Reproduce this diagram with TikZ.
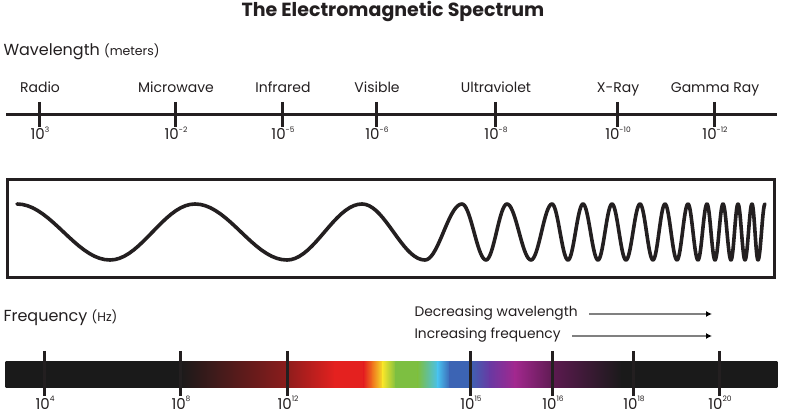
\documentclass[tikz,border=0pt]{standalone}
\usepackage{fontspec}
\setmainfont{Poppins}
\usetikzlibrary{arrows.meta}

\definecolor{ink}{HTML}{231F20}
\definecolor{barblack}{HTML}{1A1A1A}
\definecolor{darkred}{HTML}{8A1C1C}
\definecolor{specred}{HTML}{E4211F}
\definecolor{specorange}{HTML}{F07A1E}
\definecolor{specyellow}{HTML}{F5E52A}
\definecolor{specgreen}{HTML}{7DBF41}
\definecolor{speccyan}{HTML}{48C0EE}
\definecolor{specblue}{HTML}{3C64B4}
\definecolor{specviolet}{HTML}{6A38A2}
\definecolor{specmagenta}{HTML}{A2288E}
\definecolor{darkpurple}{HTML}{5A1A4E}

\newcommand{\tenpow}[1]{10\raisebox{0.5em}{\fontsize{7.5}{7.5}\selectfont#1}}

\begin{document}
\begin{tikzpicture}[x=1pt,y=-1pt,
  axisline/.style={ink,line width=3pt},
  tickmark/.style={ink,line width=3pt},
  wave/.style={ink,line width=3.6pt,line cap=round,line join=round},
  bandlabel/.style={text=ink,anchor=base,font=\fontsize{14}{14}\selectfont},
  powlabel/.style={text=ink,anchor=base,font=\fontsize{15}{15}\selectfont},
  hintlabel/.style={text=ink,anchor=west,font=\fontsize{13.8}{13.8}\selectfont},
  hint/.style={gray,line width=1.2pt,-{Latex[length=6pt,width=6pt,black]}}]
\useasboundingbox (0,0) rectangle (788,414);

% title
\node[text=ink,font=\bfseries\fontsize{19}{19}\selectfont] (title) at (393,12) {The Electromagnetic Spectrum};

% wavelength scale
\node[text=ink,anchor=base west,font=\fontsize{16}{16}\selectfont] (wavelength) at (0,56)
  {Wavelength {\fontsize{12.5}{12.5}\selectfont(meters)}};
\coordinate (wlstart) at (6,115);
\coordinate (wlend) at (777,115);
\draw[axisline] (wlstart) -- (wlend);
\foreach \x/\name/\band/\pow in {39/radio/Radio/3, 175/micro/Microwave/-2,
    282/infra/Infrared/-5, 376/visible/Visible/-6, 495/ultra/Ultraviolet/-8,
    617/xray/X-Ray/-10, 714/gamma/Gamma Ray/-12}{
  \draw[tickmark] (\x,102) -- (\x,127);
  \node[bandlabel] (\name) at (\x+1,93) {\band};
  \node[powlabel] (\name-pow) at (\x+1,140) {\tenpow{\pow}};
}

% wave box
\draw[ink,line width=3pt] (7,180) rectangle (774,278);
\foreach \a/\b/\s in {17/110/1, 110/195/-1, 195/287/1, 287/362/-1, 362/425/1,
    425/462/-1, 462/486/1, 486/507/-1, 507/531/1, 531/552/-1, 552/568/1,
    568/583/-1, 583/598/1, 598/612/-1, 612/626/1, 626/640/-1, 640/653/1,
    653/665/-1, 665/677/1, 677/688/-1, 688/698/1, 698/707/-1, 707/715/1,
    715/723/-1, 723/731/1, 731/738/-1, 738/745/1, 745/752/-1, 752/758/1,
    758/765/-1}
  \draw[wave] plot[domain=0:180,samples=19] ({\a+(\b-\a)*(\x/180)},{232-\s*28*cos(\x)});

% frequency scale
\node[text=ink,anchor=base west,font=\fontsize{16}{16}\selectfont] (frequency) at (0,322)
  {Frequency {\fontsize{12.5}{12.5}\selectfont(Hz)}};
\node[hintlabel] (dec) at (411,313) {Decreasing wavelength};
\node[hintlabel] (inc) at (411,335) {Increasing frequency};
\coordinate (decend) at (712,314);
\coordinate (incend) at (712,336);
\draw[hint] ([xshift=8pt]dec.east |- decend) -- (decend);
\draw[hint] ([xshift=8pt]inc.east |- incend) -- (incend);

\foreach \xa/\ca/\xb/\cb in {6/barblack/180/barblack, 180/barblack/285/darkred,
    285/darkred/335/specred, 335/specred/364/specred, 364/specred/373/specorange,
    373/specorange/383/specyellow, 383/specyellow/396/specgreen,
    396/specgreen/418/specgreen, 418/specgreen/438/speccyan,
    438/speccyan/450/specblue, 450/specblue/470/specblue,
    470/specblue/490/specviolet, 490/specviolet/515/specmagenta,
    515/specmagenta/555/darkpurple, 555/darkpurple/622/barblack,
    622/barblack/777/barblack}
  \shade[left color=\ca,right color=\cb] (\xa-0.3,362) rectangle (\xb+0.3,387);

\foreach \x/\name/\pow in {44/f4/4, 180/f8/8, 287/f12/12, 470/f15/15,
    552/f16/16, 633/f18/18, 719/f20/20}{
  \draw[tickmark] (\x,351) -- (\x,396);
  \node[powlabel] (\name) at (\x+1,409.5) {\tenpow{\pow}};
}
\end{tikzpicture}
\end{document}
